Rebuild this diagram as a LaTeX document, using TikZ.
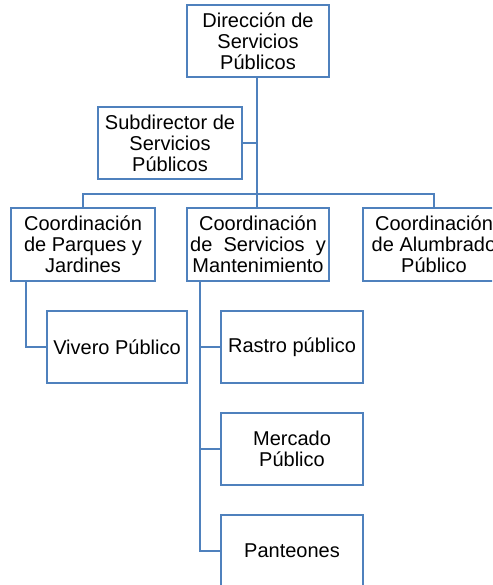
\documentclass[tikz,border=0pt]{standalone}
\usepackage{fontspec}
\setmainfont{Liberation Sans}
\definecolor{boxblue}{HTML}{4F81BD}
\begin{document}
\begin{tikzpicture}[x=1pt,y=-1pt,
  orgbox/.style={draw=boxblue, line width=2pt, fill=white, rectangle, inner sep=0pt,
    minimum width=142pt, minimum height=72pt, align=center,
    font=\fontsize{20}{21}\selectfont},
  link/.style={draw=boxblue, line width=2pt}]
\useasboundingbox (0,0) rectangle (492,585);
\clip (0,0) rectangle (492,585);
\node[orgbox] (dir) at (258,41) {Dirección de\\Servicios\\Públicos};
\node[orgbox, minimum width=144pt] (sub) at (170,143) {Subdirector de\\Servicios\\Públicos};
\node[orgbox, minimum width=144pt, minimum height=73pt] (cpj) at (83,244.5) {Coordinación\\de Parques y\\Jardines};
\node[orgbox, minimum height=73pt] (csm) at (258,244.5) {Coordinación\\de~ Servicios~ y\\Mantenimiento};
\node[orgbox, minimum height=73pt] (cap) at (434,244.5) {Coordinación\\de Alumbrado\\Público};
\node[orgbox, minimum width=140pt] (viv) at (117,347) {Vivero Público};
\node[orgbox] (ras) at (292,347) {Rastro público};
\node[orgbox] (mer) at (292,448.5) {Mercado\\Público};
\node[orgbox] (pan) at (292,551) {Panteones};
\coordinate (bar) at (257,194);
\coordinate (subj) at (257,143);
\begin{scope}[on background layer/.style={}]
\end{scope}
\draw[link] (dir.south -| bar) -- (bar);
\draw[link] (sub.east) -- (subj);
\draw[link] (cpj.north) |- (bar) -| (cap.north);
\draw[link] (bar) -- (csm.north -| bar);
\coordinate (lj) at (26,281);
\coordinate (mj) at (200,281);
\draw[link] (cpj.south -| lj) |- (viv.west);
\draw[link] (csm.south -| mj) |- (pan.west);
\draw[link] (ras.west) -- (ras.west -| mj);
\draw[link] (mer.west) -- (mer.west -| mj);
\end{tikzpicture}
\end{document}
